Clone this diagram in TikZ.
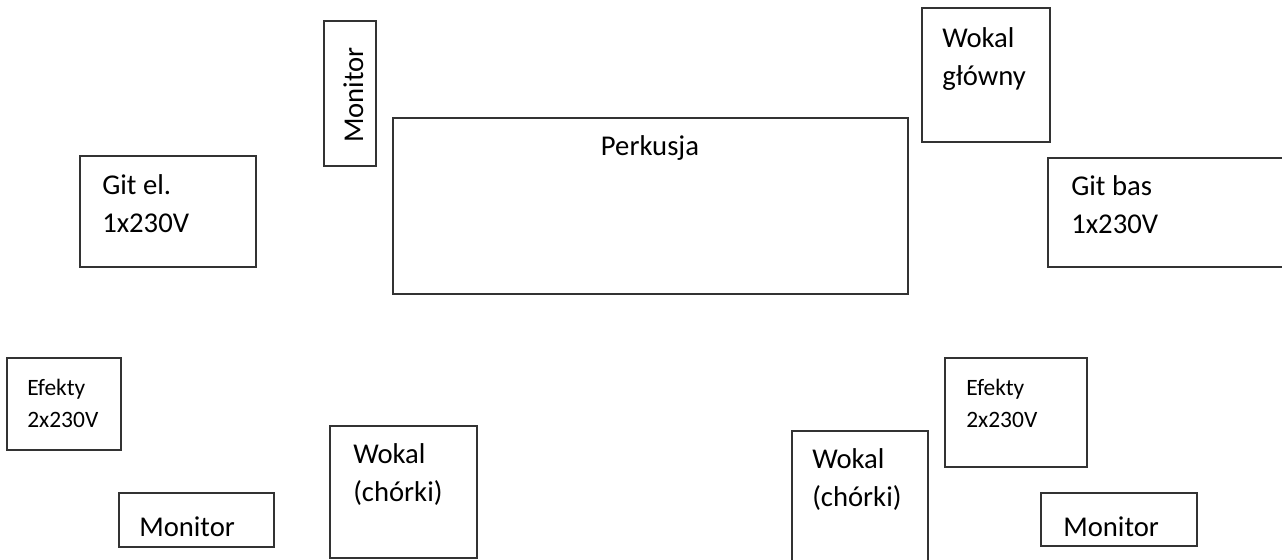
\documentclass[tikz,border=0pt]{standalone}
\usepackage{fontspec}
\setmainfont{Carlito}
\begin{document}
\begin{tikzpicture}[x=0.75pt,y=-0.75pt,
  box/.style={draw=black!80,line width=1pt,inner sep=0pt,outer sep=0pt,anchor=north west},
  big/.style={inner sep=0pt,anchor=base west,align=left,font=\fontsize{21.5}{28.3}\selectfont},
  small/.style={inner sep=0pt,anchor=base west,align=left,font=\fontsize{17.6}{24}\selectfont}]
\useasboundingbox (0,0) rectangle (1282,560);
\newcommand{\mybox}[5]{\node[box,minimum width={(#4-#2)*0.75pt},minimum height={(#5-#3)*0.75pt}] (#1) at (#2,#3) {};}
\mybox{monTop}{324}{21}{376}{166}
\mybox{gitEl}{80}{156}{256}{267}
\mybox{perk}{393}{118}{908}{294}
\mybox{wokalG}{922}{8}{1050}{142}
\mybox{gitBas}{1048}{158}{1292}{267}
\mybox{efL}{7}{358}{121}{450}
\mybox{monL}{119}{493}{274}{547}
\mybox{choL}{330}{426}{477}{558}
\mybox{choR}{792}{431}{928}{566}
\mybox{efR}{945}{358}{1087}{467}
\mybox{monR}{1041}{493}{1197}{546}
% texts (base anchor = baseline of last line)
\node[big,rotate=90] (tMonTop) at (363,143) {Monitor};
\node[big] (tGitEl) at (102,232) {Git el.\\1x230V};
\node[big,anchor=base] (tPerk) at (650,156) {Perkusja};
\node[big] (tWokalG) at (942,85) {Wokal\\główny};
\node[big] (tGitBas) at (1071,233) {Git bas\\1x230V};
\node[small] (tEfL) at (27,427) {Efekty\\2x230V};
\node[big] (tMonL) at (139,536) {Monitor};
\node[big] (tChoL) at (353,501) {Wokal\\(chórki)};
\node[big] (tChoR) at (812,506) {Wokal\\(chórki)};
\node[small] (tEfR) at (966,427) {Efekty\\2x230V};
\node[big] (tMonR) at (1063,536) {Monitor};
\end{tikzpicture}
\end{document}
